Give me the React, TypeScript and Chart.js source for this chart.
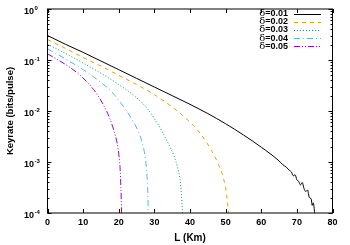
import React, { useEffect, useRef } from "react";
import { Chart, registerables } from "chart.js";

Chart.register(...registerables);

const seriesLabels = ["0.01", "0.02", "0.03", "0.04", "0.05"];
const seriesColors = ["#000000", "#e69f00", "#009e73", "#56b4e9", "#9400d3"];
const seriesDashes: number[][] = [[], [4, 4], [1, 2], [6, 3, 1, 3], [6, 2, 1, 2, 1, 2]];

const xTicks = [0, 10, 20, 30, 40, 50, 60, 70, 80];
const yDecades = [0, -1, -2, -3, -4];

const l01 = [0, 5, 10, 15, 20, 25, 30, 35, 40, 45, 50, 55, 60, 65, 66, 67, 68, 68.5, 69, 69.5, 70, 70.5, 71, 71.5, 72, 72.5, 73, 73.5, 74, 74.3, 74.6, 75];
const k01 = [0.302, 0.204, 0.141, 0.0955, 0.0646, 0.0437, 0.0295, 0.02, 0.0135, 0.00891, 0.00562, 0.00339, 0.00195, 0.00105, 8.91e-4, 7.94e-4, 6.76e-4, 6.31e-4, 5.37e-4, 5.62e-4, 4.47e-4, 4.17e-4, 3.55e-4, 3.98e-4, 3.02e-4, 2.63e-4, 2.82e-4, 2.0e-4, 1.91e-4, 1.41e-4, 1.58e-4, 1.0e-4];

const l02 = [0, 5, 10, 15, 20, 25, 30, 35, 40, 43, 46, 48, 49.5, 50.3, 50.8];
const k02 = [0.251, 0.17, 0.112, 0.0759, 0.0501, 0.0331, 0.0209, 0.012, 0.00603, 0.00355, 0.0017, 8.91e-4, 4.47e-4, 2.24e-4, 1.0e-4];

const l03 = [0, 5, 10, 15, 20, 25, 28, 30, 32, 34, 35.5, 36.5, 37.2, 37.6, 37.9];
const k03 = [0.204, 0.135, 0.0871, 0.055, 0.0331, 0.0182, 0.0112, 0.00708, 0.00417, 0.00224, 0.00132, 7.94e-4, 4.47e-4, 2.24e-4, 1.0e-4];

const l04 = [0, 5, 10, 15, 18, 20, 22, 24, 25.5, 26.5, 27.3, 27.8, 28.1, 28.3];
const k04 = [0.166, 0.105, 0.0646, 0.0363, 0.024, 0.0162, 0.0105, 0.00631, 0.00398, 0.00251, 0.00141, 7.08e-4, 3.16e-4, 1.0e-4];

const l05 = [0, 3, 6, 9, 12, 14, 16, 17.5, 18.7, 19.6, 20.1, 20.4, 20.6, 20.8];
const k05 = [0.132, 0.1, 0.0741, 0.0513, 0.0316, 0.0209, 0.012, 0.00708, 0.00398, 0.00224, 0.00126, 7.08e-4, 3.16e-4, 1.0e-4];

const seriesL = [l01, l02, l03, l04, l05];
const seriesK = [k01, k02, k03, k04, k05];

const FONT = "'Liberation Sans', Arial, sans-serif";

const gnuplotPlugin = {
  id: "gnuplotDecor",
  afterDraw(chart: any) {
    const ctx = chart.ctx as CanvasRenderingContext2D;
    const { left, right, top, bottom } = chart.chartArea;
    const xs = chart.scales.x;
    const ys = chart.scales.y;
    ctx.save();
    ctx.strokeStyle = "#000";
    ctx.lineWidth = 1;
    ctx.setLineDash([]);
    ctx.strokeRect(left, top, right - left, bottom - top);
    ctx.beginPath();
    xTicks.forEach((v) => {
      const px = Math.round(xs.getPixelForValue(v)) + 0.5;
      ctx.moveTo(px, bottom);
      ctx.lineTo(px, bottom - 4);
      ctx.moveTo(px, top);
      ctx.lineTo(px, top + 4);
    });
    yDecades.forEach((d) => {
      const py = Math.round(ys.getPixelForValue(Math.pow(10, d))) + 0.5;
      ctx.moveTo(left, py);
      ctx.lineTo(left + 4, py);
      ctx.moveTo(right, py);
      ctx.lineTo(right - 4, py);
      if (d > -4) {
        for (let m = 2; m <= 9; m++) {
          const pm = Math.round(ys.getPixelForValue(m * Math.pow(10, d - 1))) + 0.5;
          ctx.moveTo(left, pm);
          ctx.lineTo(left + 2, pm);
          ctx.moveTo(right, pm);
          ctx.lineTo(right - 2, pm);
        }
      }
    });
    ctx.stroke();

    ctx.fillStyle = "#000";
    ctx.font = `bold 9px ${FONT}`;
    ctx.textAlign = "center";
    ctx.textBaseline = "middle";
    xTicks.forEach((v) => {
      ctx.fillText(String(v), xs.getPixelForValue(v), 223);
    });
    yDecades.forEach((d) => {
      const py = ys.getPixelForValue(Math.pow(10, d));
      ctx.font = `bold 9px ${FONT}`;
      ctx.textAlign = "right";
      ctx.fillText("10", 34, py + 3);
      ctx.font = `bold 6px ${FONT}`;
      ctx.textAlign = "left";
      ctx.fillText(String(d), 34.5, py - 1);
    });
    ctx.font = `bold 10px ${FONT}`;
    ctx.textAlign = "center";
    ctx.fillText("L (Km)", (left + right) / 2, 238);
    ctx.save();
    ctx.font = `bold 9.5px ${FONT}`;
    ctx.translate(10, (top + bottom) / 2);
    ctx.rotate(-Math.PI / 2);
    ctx.fillText("Keyrate (bits/pulse)", 0, 0);
    ctx.restore();

    seriesLabels.forEach((lab, i) => {
      const y = 13.5 + i * 8.2;
      ctx.font = `bold 9px ${FONT}`;
      ctx.textAlign = "right";
      ctx.textBaseline = "middle";
      const rest = "=" + lab;
      const wRest = ctx.measureText(rest).width;
      ctx.fillText(rest, 288, y);
      ctx.font = `10px 'DejaVu Serif', serif`;
      ctx.fillText("\u03b4", 288 - wRest, y);
      ctx.strokeStyle = seriesColors[i];
      ctx.setLineDash(seriesDashes[i]);
      ctx.beginPath();
      ctx.moveTo(294, Math.round(y) + 0.5);
      ctx.lineTo(321, Math.round(y) + 0.5);
      ctx.stroke();
    });
    ctx.restore();
  },
};

export default function App() {
  const ref = useRef<HTMLCanvasElement | null>(null);
  useEffect(() => {
    document.body.style.margin = "0";
    if (!ref.current) return;
    const datasets = seriesLabels.map((lab, i) => ({
      label: "\u03b4=" + lab,
      data: seriesL[i].map((x, j) => ({ x, y: seriesK[i][j] })),
      borderColor: seriesColors[i],
      borderDash: seriesDashes[i],
      borderWidth: 1,
      pointRadius: 0,
      fill: false,
      cubicInterpolationMode: "monotone" as const,
    }));
    const chart = new Chart(ref.current, {
      type: "line",
      data: { datasets },
      options: {
        animation: false,
        responsive: false,
        devicePixelRatio: 1,
        layout: { padding: { left: 47.5, right: 17.5, top: 9, bottom: 32 } },
        plugins: { legend: { display: false }, tooltip: { enabled: false } },
        scales: {
          x: { type: "linear", min: 0, max: 80, display: false },
          y: { type: "logarithmic", min: 1e-4, max: 1, display: false },
        },
      },
      plugins: [gnuplotPlugin],
    });
    return () => chart.destroy();
  }, []);
  return <canvas ref={ref} width={350} height={245} style={{ display: "block" }} />;
}
